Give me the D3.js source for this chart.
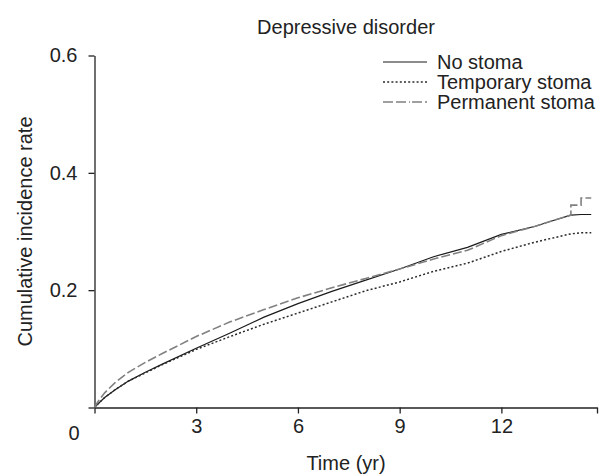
<!DOCTYPE html>
<html>
<head>
<meta charset="utf-8">
<script src="https://cdn.jsdelivr.net/npm/d3@7"></script>
<style>
  body { margin: 0; background: #fff; }
  text { font-family: "Liberation Sans", Arial, sans-serif; fill: #222; }
</style>
</head>
<body>
<script>

// follow-up time (yr); repeated times give the late steps
var times = [0, 0.1, 0.3, 0.6, 1, 1.5, 2, 3, 4, 5, 6, 7, 8, 9, 10, 11, 12, 13, 13.6, 14.05, 14.05, 14.35, 14.35, 14.65];

var noStoma = [0, 0.006, 0.017, 0.030, 0.045, 0.060, 0.074, 0.101, 0.127, 0.154, 0.177, 0.198, 0.217, 0.236, 0.257, 0.273, 0.295, 0.309, 0.320, 0.328, 0.328, 0.329, 0.329, 0.329];
var temporaryStoma = [0, 0.006, 0.017, 0.030, 0.045, 0.059, 0.073, 0.099, 0.121, 0.142, 0.161, 0.180, 0.199, 0.214, 0.232, 0.246, 0.266, 0.282, 0.290, 0.296, 0.296, 0.298, 0.298, 0.298];
var permanentStoma = [0, 0.010, 0.025, 0.042, 0.060, 0.077, 0.092, 0.121, 0.146, 0.167, 0.187, 0.204, 0.220, 0.236, 0.253, 0.268, 0.293, 0.309, 0.320, 0.328, 0.345, 0.345, 0.357, 0.357];

var seriesNames = ["No stoma", "Temporary stoma", "Permanent stoma"];
var xTicks = [0, 3, 6, 9, 12];
var yTicks = [0, 0.2, 0.4, 0.6];
var xMax = 14.82;

var width = 606,
    height = 476;

var plotLeft = 94.5, plotRight = 597, plotTop = 55.5, plotBottom = 407.5;

var svg = d3.select("body").append("svg")
    .attr("width", width)
    .attr("height", height);

var x = d3.scaleLinear().domain([0, xMax]).range([plotLeft, plotRight]);
var y = d3.scaleLinear().domain([0, 0.6]).range([plotBottom, plotTop]);

// axes
svg.append("g")
    .attr("transform", "translate(0," + plotBottom + ")")
    .call(d3.axisBottom(x)
      .tickValues(xTicks.concat([xMax]))
      .tickSize(6)
      .tickSizeOuter(0)
      .tickPadding(5)
      .tickFormat(function(d) { return (d === 0 || d === xMax) ? "" : d; }));

svg.append("g")
    .attr("transform", "translate(" + plotLeft + ",0)")
    .call(d3.axisLeft(y)
      .tickValues(yTicks)
      .tickSize(6)
      .tickSizeOuter(0)
      .tickPadding(11)
      .tickFormat(function(d) { return d === 0 ? "" : d3.format(".1f")(d); }));

svg.selectAll(".domain, .tick line")
    .attr("stroke", "#222")
    .attr("stroke-width", 1.3);
svg.selectAll(".tick text")
    .style("font-size", "20px")
    .attr("fill", "#222");

// shared origin label
svg.append("text")
    .attr("x", 74)
    .attr("y", 440)
    .attr("text-anchor", "middle")
    .style("font-size", "20px")
    .text("0");

// curves
var styles = [
  { color: "#1a1a1a", dash: null, w: 1.2 },
  { color: "#2a2a2a", dash: "2,2.2", w: 1.5 },
  { color: "#808080", dash: "9,3", w: 1.6 }
];
var series = [noStoma, temporaryStoma, permanentStoma];

var line = d3.line()
    .x(function(d) { return x(d[0]); })
    .y(function(d) { return y(d[1]); });

series.forEach(function(vals, i) {
  svg.append("path")
      .datum(times.map(function(t, j) { return [t, vals[j]]; }))
      .attr("fill", "none")
      .attr("stroke", styles[i].color)
      .attr("stroke-width", styles[i].w)
      .attr("stroke-dasharray", styles[i].dash)
      .attr("d", line);
});

// legend
var legend = svg.append("g");
seriesNames.forEach(function(name, i) {
  var ly = 62 + i * 20;
  legend.append("line")
      .attr("x1", 383).attr("x2", 427)
      .attr("y1", ly).attr("y2", ly)
      .attr("stroke", styles[i].color)
      .attr("stroke-width", styles[i].w)
      .attr("stroke-dasharray", i === 2 ? "10,3,10,3,1,2" : styles[i].dash);
  legend.append("text")
      .attr("x", 437)
      .attr("y", ly)
      .attr("dy", "0.35em")
      .style("font-size", "20px")
      .text(name);
});

// titles
svg.append("text")
    .attr("x", 346)
    .attr("y", 34)
    .attr("text-anchor", "middle")
    .style("font-size", "20px")
    .text("Depressive disorder");

svg.append("text")
    .attr("x", 346)
    .attr("y", 470)
    .attr("text-anchor", "middle")
    .style("font-size", "20px")
    .text("Time (yr)");

svg.append("text")
    .attr("transform", "translate(32," + ((plotTop + plotBottom) / 2) + ") rotate(-90)")
    .attr("text-anchor", "middle")
    .style("font-size", "20px")
    .text("Cumulative incidence rate");

</script>
</body>
</html>
